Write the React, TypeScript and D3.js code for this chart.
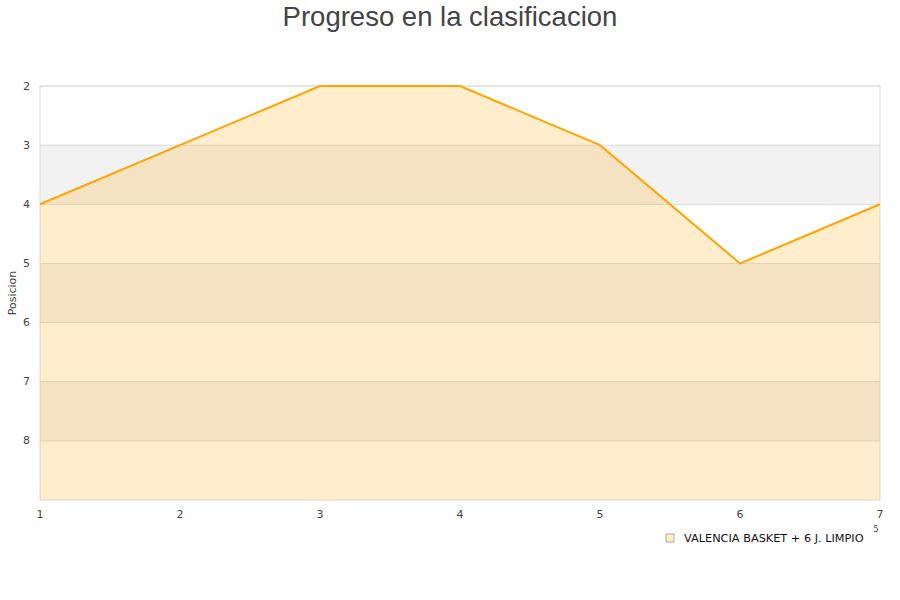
import React, { useMemo } from "react";
import * as d3 from "d3";

const WIDTH = 900;
const HEIGHT = 600;
const MARGIN = { top: 86, right: 20, bottom: 100, left: 40 };

// jornadas and league position
const rounds = [1, 2, 3, 4, 5, 6, 7];
const positions = [4, 3, 2, 2, 3, 5, 4];
const yTicks = [2, 3, 4, 5, 6, 7, 8];
const seriesName = "VALENCIA BASKET + 6 J. LIMPIO";

const App = () => {
  const boundsWidth = WIDTH - MARGIN.left - MARGIN.right;
  const boundsHeight = HEIGHT - MARGIN.top - MARGIN.bottom;

  const xScale = useMemo(
    () => d3.scaleLinear().domain([1, 7]).range([0, boundsWidth]),
    [boundsWidth]
  );
  const yScale = useMemo(
    () => d3.scaleLinear().domain([2, 9]).range([0, boundsHeight]),
    [boundsHeight]
  );

  const data = rounds.map((r, i) => ({ x: r, y: positions[i] }));

  const areaPath = d3
    .area<{ x: number; y: number }>()
    .x((d) => xScale(d.x))
    .y0(boundsHeight)
    .y1((d) => yScale(d.y))(data);

  const linePath = d3
    .line<{ x: number; y: number }>()
    .x((d) => xScale(d.x))
    .y((d) => yScale(d.y))(data);

  // alternating bands 3-4, 5-6, 7-8
  const bands = [3, 5, 7].map((v) => (
    <rect
      key={v}
      x={0}
      y={yScale(v)}
      width={boundsWidth}
      height={yScale(v + 1) - yScale(v)}
      fill="#f2f2f2"
    />
  ));

  const grid = yTicks.map((v) => (
    <g key={v}>
      <line x1={0} x2={boundsWidth} y1={yScale(v)} y2={yScale(v)} stroke="#dcdcdc" />
      <text
        x={-10}
        y={yScale(v)}
        textAnchor="end"
        dominantBaseline="central"
        fontSize={11}
        fill="#444"
      >
        {v}
      </text>
    </g>
  ));

  const xLabels = rounds.map((r) => (
    <text
      key={r}
      x={xScale(r)}
      y={boundsHeight + 14}
      textAnchor="middle"
      dominantBaseline="central"
      fontSize={11}
      fill="#444"
    >
      {r}
    </text>
  ));

  return (
    <div>
      <svg
        width={WIDTH}
        height={HEIGHT}
        style={{ position: "absolute", left: 0, top: 0, fontFamily: "DejaVu Sans, sans-serif" }}
      >
        <rect width={WIDTH} height={HEIGHT} fill="white" />
        <text
          x={WIDTH / 2}
          y={16}
          textAnchor="middle"
          dominantBaseline="central"
          fontSize={27.5}
          fill="#444"
          fontFamily="Liberation Sans, Arial, sans-serif"
        >
          Progreso en la clasificacion
        </text>
        <text
          transform={`translate(12, ${MARGIN.top + boundsHeight / 2}) rotate(-90)`}
          textAnchor="middle"
          dominantBaseline="central"
          fontSize={11}
          fill="#444"
        >
          Posicion
        </text>
        <g transform={`translate(${MARGIN.left},${MARGIN.top})`}>
          {bands}
          {grid}
          <rect
            x={0}
            y={0}
            width={boundsWidth}
            height={boundsHeight}
            fill="none"
            stroke="#dcdcdc"
          />
          <path d={areaPath || ""} fill="rgba(255,165,0,0.2)" stroke="none" />
          <path d={linePath || ""} fill="none" stroke="#ffa500" strokeWidth={2} />
          {xLabels}
        </g>
        <g transform="translate(666, 534)">
          <rect x={0} y={0} width={8} height={8} fill="#ffebc8" stroke="#999" strokeWidth={0.8} />
          <text x={18} y={4.5} dominantBaseline="central" fontSize={11.3} fill="#111">
            {seriesName}
          </text>
        </g>
        <text x={876} y={532} textAnchor="middle" fontSize={8} fill="#444">
          5
        </text>
      </svg>
    </div>
  );
};

export default App;
